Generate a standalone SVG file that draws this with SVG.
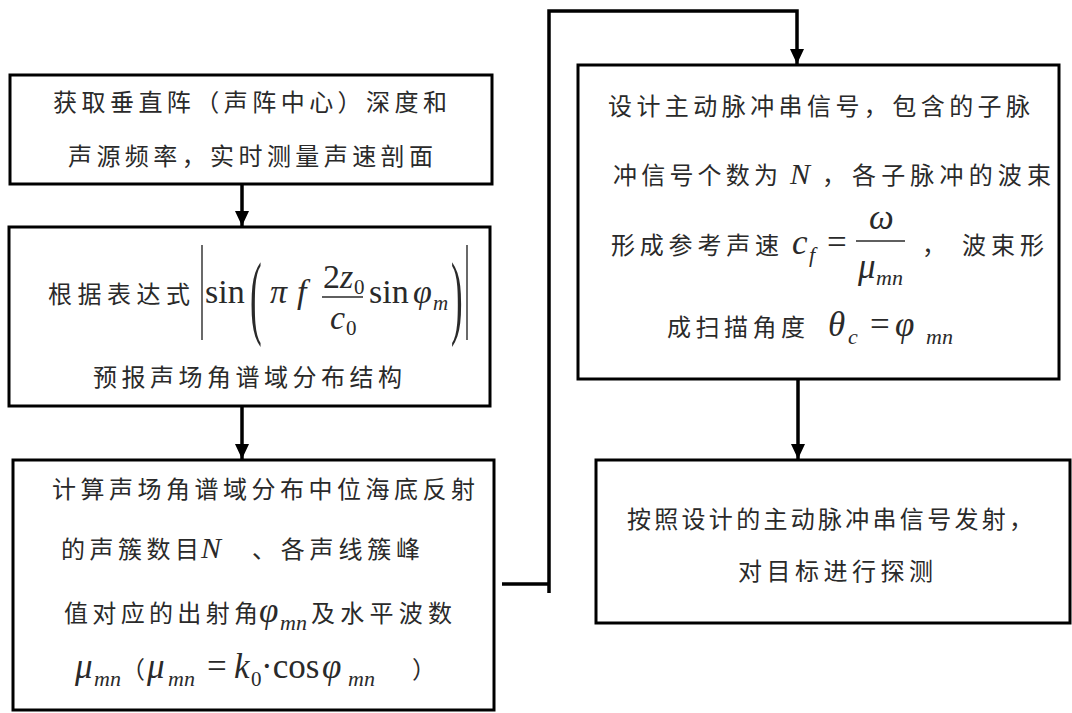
<svg xmlns="http://www.w3.org/2000/svg" width="1072" height="713" viewBox="0 0 1072 713">
<style>
.box{fill:#fff;stroke:#000;stroke-width:3}
.cn{font-family:"Noto Sans CJK SC","Noto Sans",sans-serif;font-size:24px;fill:#2a2a2a}
.m{font-family:"Liberation Serif","Times New Roman",serif;font-size:35px;fill:#2a2a2a}
.m2{font-size:34px}
.i{font-style:italic}
.s{font-family:"Liberation Serif","Times New Roman",serif;font-size:21px;fill:#2a2a2a}
.conn{fill:none;stroke:#000;stroke-width:3.5}
.bar{stroke:#2a2a2a;stroke-width:1.4}
</style>
<defs>
<marker id="ah" markerUnits="userSpaceOnUse" markerWidth="16" markerHeight="16" viewBox="0 0 16 16" refX="15" refY="8" orient="auto">
<path d="M0,1 L15,8 L0,15 Z" fill="#000"/>
</marker>
</defs>
<rect width="1072" height="713" fill="#fff"/>

<g id="connectors">
<path class="conn" d="M242,184 V226" marker-end="url(#ah)"/>
<path class="conn" d="M242,406 V459" marker-end="url(#ah)"/>
<path class="conn" d="M502,584 H550"/>
<path class="conn" d="M549,593 V11 H797 V64" marker-end="url(#ah)"/>
<path class="conn" d="M798,379 V459" marker-end="url(#ah)"/>
</g>

<g id="n1">
<rect class="box" x="10" y="75" width="482" height="109"/>
<text class="cn" x="53" y="111" textLength="394" lengthAdjust="spacing">获取垂直阵（声阵中心）深度和</text>
<text class="cn" x="68" y="165" textLength="365" lengthAdjust="spacing">声源频率，实时测量声速剖面</text>
</g>

<g id="n2">
<rect class="box" x="9" y="227" width="481" height="179"/>
<text class="cn" x="48" y="303" textLength="142" lengthAdjust="spacing">根据表达式</text>
<line class="bar" x1="202" y1="245" x2="202" y2="340"/>
<text class="m m2" x="205" y="303">sin</text>
<text class="m" transform="translate(250,327) scale(1,2.65)">(</text>
<text class="m m2 i" x="270" y="303">π</text>
<text class="m m2 i" x="297" y="303">f</text>
<text class="m m2" x="323" y="288">2<tspan class="i">z</tspan></text>
<text class="s" x="354" y="294">0</text>
<line class="bar" x1="322" y1="297" x2="363" y2="297"/>
<text class="m m2 i" x="330" y="329">c</text>
<text class="s" x="346" y="335">0</text>
<text class="m m2" x="369" y="303">sin</text>
<text class="m m2 i" x="413" y="303">φ</text>
<text class="s i" x="433" y="310">m</text>
<text class="m" transform="translate(451,327) scale(1,2.65)">)</text>
<line class="bar" x1="467" y1="245" x2="467" y2="340"/>
<text class="cn" x="93" y="386" textLength="309" lengthAdjust="spacing">预报声场角谱域分布结构</text>
</g>

<g id="n3">
<rect class="box" x="13" y="460" width="481" height="250"/>
<text class="cn" x="52" y="498" textLength="423" lengthAdjust="spacing">计算声场角谱域分布中位海底反射</text>
<text class="cn" x="61" y="558" textLength="138" lengthAdjust="spacing">的声簇数目</text>
<text class="m i" x="201" y="558" style="font-size:30px">N</text>
<text class="cn" x="252" y="558" textLength="168" lengthAdjust="spacing">、各声线簇峰</text>
<text class="cn" x="64" y="622" textLength="194" lengthAdjust="spacing">值对应的出射角</text>
<text class="m i" x="259" y="622">φ</text>
<text class="s i" x="280" y="630" style="font-size:22px">mn</text>
<text class="cn" x="311" y="622" textLength="141" lengthAdjust="spacing">及水平波数</text>
<text class="m i" x="75" y="678">μ</text>
<text class="s i" x="94" y="686" style="font-size:22px">mn</text>
<text class="cn" x="121" y="678">（</text>
<text class="m i" x="147" y="678">μ</text>
<text class="s i" x="168" y="686" style="font-size:22px">mn</text>
<text class="m" x="207" y="678">=</text>
<text class="m i" x="234" y="678">k</text>
<text class="s" x="251" y="686">0</text>
<text class="m" x="261" y="678">·cos</text>
<text class="m i" x="322" y="678">φ</text>
<text class="s i" x="348" y="686" style="font-size:22px">mn</text>
<text class="cn" x="412" y="678">）</text>
</g>

<g id="n4">
<rect class="box" x="578" y="65" width="481" height="314"/>
<text class="cn" x="608" y="115" textLength="422" lengthAdjust="spacing">设计主动脉冲串信号，包含的子脉</text>
<text class="cn" x="613" y="184" textLength="165" lengthAdjust="spacing">冲信号个数为</text>
<text class="m i" x="790" y="184" style="font-size:30px">N</text>
<text class="cn" x="822" y="184">，</text>
<text class="cn" x="852" y="184" textLength="199" lengthAdjust="spacing">各子脉冲的波束</text>
<text class="cn" x="611" y="254" textLength="168" lengthAdjust="spacing">形成参考声速</text>
<text class="m i" x="792" y="254">c</text>
<text class="s i" x="809" y="262" style="font-size:22px">f</text>
<text class="m" x="827" y="254">=</text>
<text class="m i" x="869" y="229">ω</text>
<line class="bar" x1="856" y1="241" x2="905" y2="241"/>
<text class="m i" x="858" y="278">μ</text>
<text class="s i" x="876" y="285" style="font-size:22px">mn</text>
<text class="cn" x="922" y="254">，</text>
<text class="cn" x="962" y="254" textLength="82" lengthAdjust="spacing">波束形</text>
<text class="cn" x="667" y="336" textLength="138" lengthAdjust="spacing">成扫描角度</text>
<text class="m i" x="828" y="336">θ</text>
<text class="s i" x="848" y="344" style="font-size:22px">c</text>
<text class="m" x="870" y="336">=</text>
<text class="m i" x="895" y="336">φ</text>
<text class="s i" x="926" y="344" style="font-size:22px">mn</text>
</g>

<g id="n5">
<rect class="box" x="596" y="460" width="474" height="163"/>
<text class="cn" x="627" y="528" textLength="406" lengthAdjust="spacing">按照设计的主动脉冲串信号发射，</text>
<text class="cn" x="738" y="580" textLength="195" lengthAdjust="spacing">对目标进行探测</text>
</g>
</svg>
